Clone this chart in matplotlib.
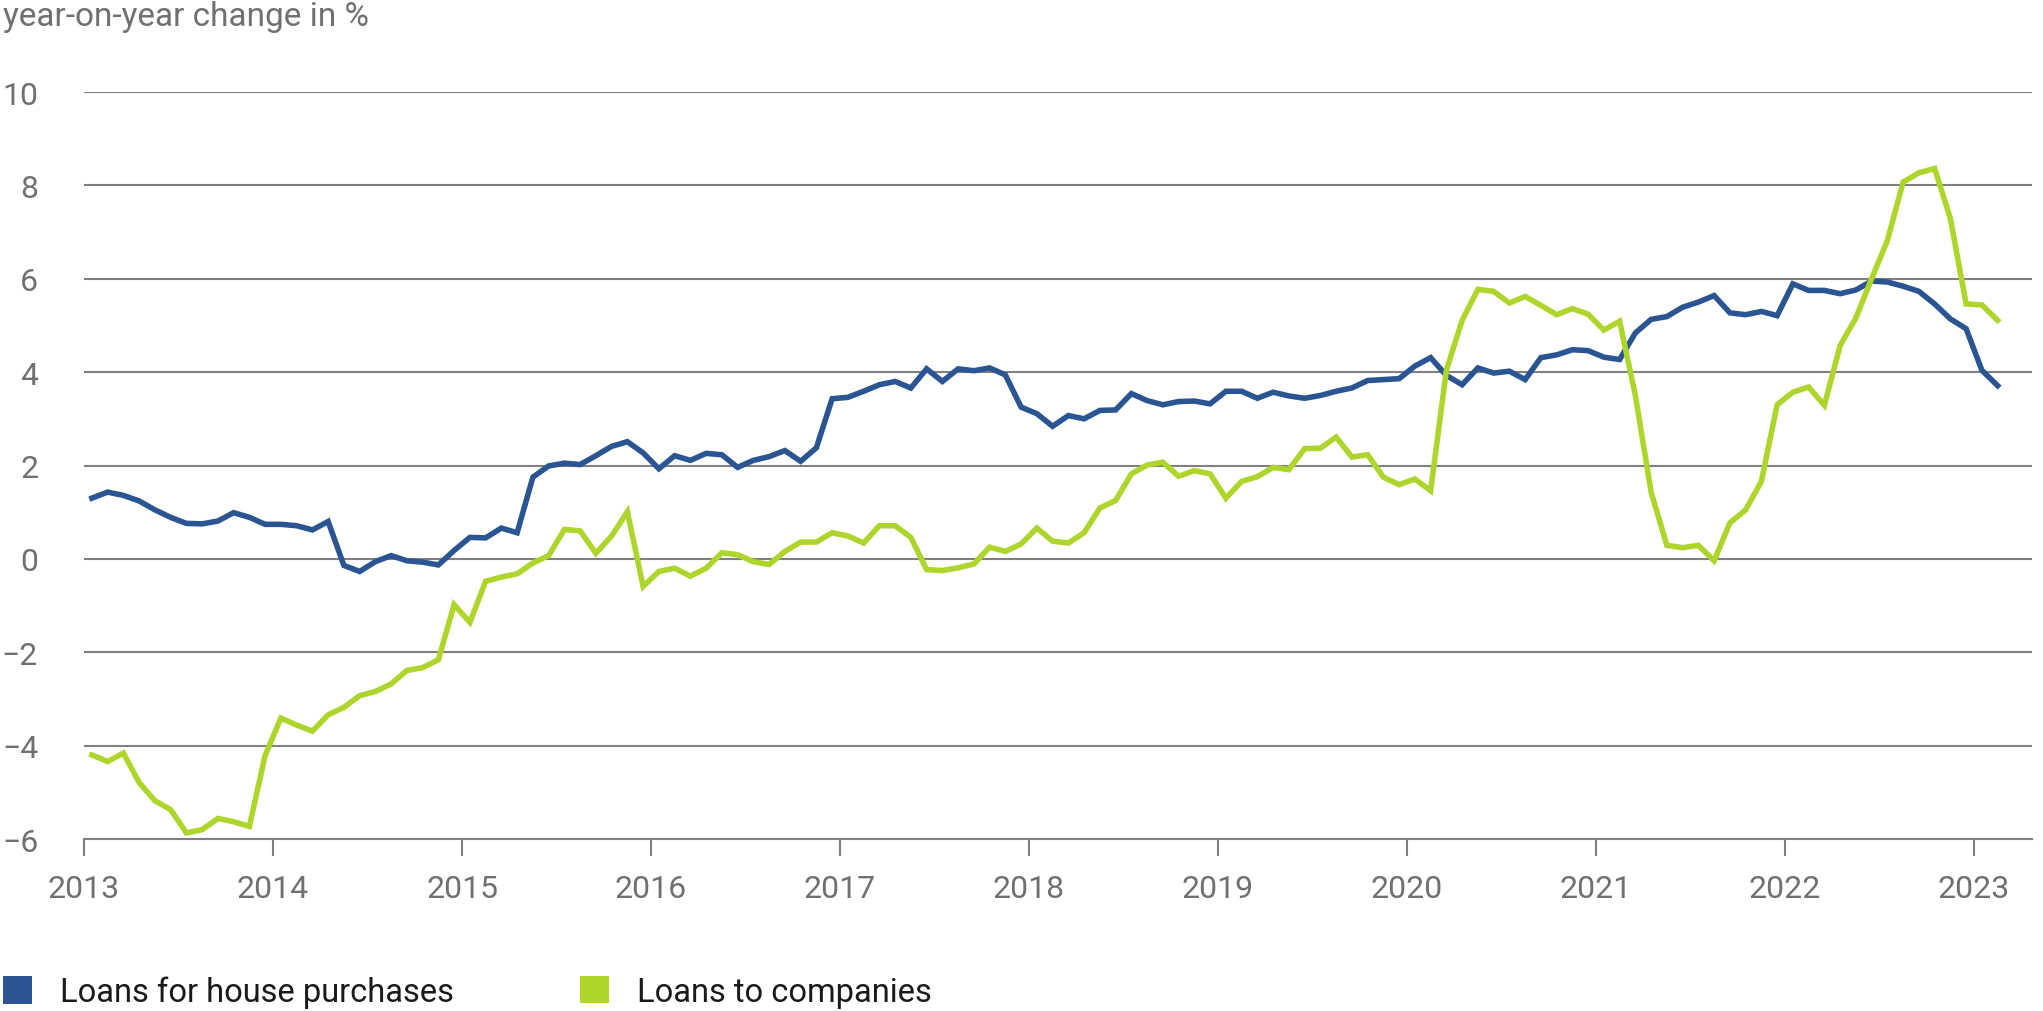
import numpy as np
import pandas as pd
import matplotlib
matplotlib.use("Agg")
import matplotlib.pyplot as plt
from matplotlib.patches import Patch

plt.rcParams['font.family'] = ['Roboto', 'DejaVu Sans']

months = pd.period_range('2013-01', '2023-02', freq='M')

house = [1.30, 1.43, 1.36, 1.24, 1.05, 0.89, 0.76, 0.75, 0.81, 0.99, 0.89, 0.74,
         0.74, 0.71, 0.62, 0.80, -0.14, -0.27, -0.06, 0.07, -0.04, -0.07, -0.13, 0.18,
         0.46, 0.45, 0.66, 0.56, 1.75, 1.99, 2.05, 2.02, 2.21, 2.41, 2.51, 2.27,
         1.93, 2.21, 2.11, 2.26, 2.23, 1.96, 2.11, 2.19, 2.32, 2.09, 2.38, 3.43,
         3.46, 3.59, 3.73, 3.80, 3.66, 4.07, 3.80, 4.07, 4.03, 4.09, 3.94, 3.25,
         3.11, 2.84, 3.07, 3.00, 3.18, 3.19, 3.54, 3.39, 3.30, 3.37, 3.38, 3.32,
         3.59, 3.59, 3.44, 3.57, 3.49, 3.44, 3.50, 3.59, 3.66, 3.82, 3.84, 3.86,
         4.13, 4.31, 3.93, 3.73, 4.09, 3.98, 4.02, 3.84, 4.31, 4.37, 4.48, 4.46,
         4.32, 4.27, 4.84, 5.13, 5.19, 5.39, 5.50, 5.64, 5.27, 5.23, 5.30, 5.21,
         5.89, 5.75, 5.75, 5.68, 5.76, 5.95, 5.93, 5.84, 5.73, 5.46, 5.14, 4.93,
         4.04, 3.71]

companies = [-4.20, -4.34, -4.16, -4.79, -5.18, -5.37, -5.87, -5.80, -5.56, -5.63, -5.73, -4.21,
             -3.41, -3.56, -3.69, -3.34, -3.18, -2.93, -2.84, -2.68, -2.39, -2.33, -2.16, -0.98,
             -1.36, -0.48, -0.39, -0.32, -0.09, 0.07, 0.63, 0.60, 0.12, 0.49, 1.01, -0.59,
             -0.27, -0.20, -0.37, -0.20, 0.13, 0.09, -0.06, -0.12, 0.16, 0.36, 0.36, 0.56,
             0.49, 0.34, 0.71, 0.71, 0.46, -0.23, -0.25, -0.19, -0.11, 0.25, 0.16, 0.32,
             0.66, 0.38, 0.34, 0.56, 1.09, 1.25, 1.82, 2.01, 2.07, 1.77, 1.89, 1.82,
             1.30, 1.66, 1.76, 1.96, 1.91, 2.36, 2.37, 2.61, 2.18, 2.23, 1.75, 1.59,
             1.71, 1.46, 4.04, 5.11, 5.77, 5.73, 5.48, 5.62, 5.43, 5.23, 5.36, 5.24,
             4.90, 5.09, 3.50, 1.43, 0.29, 0.24, 0.29, -0.04, 0.77, 1.05, 1.66, 3.30,
             3.57, 3.68, 3.29, 4.57, 5.16, 6.00, 6.82, 8.07, 8.27, 8.36, 7.29, 5.46,
             5.44, 5.11]

year_ticks = list(range(2013, 2024))
y_ticks = [-6, -4, -2, 0, 2, 4, 6, 8, 10]
series_names = ["Loans for house purchases", "Loans to companies"]
title_text = "year-on-year change in %"

BLUE = "#2B5592"
GREEN = "#ADD52B"
GRAY = "#707070"
GRID = "#808080"

x = np.array([p.year + (p.month - 0.5) / 12 for p in months])

fig = plt.figure(figsize=(20.43, 10.12), dpi=100)
ax = fig.add_axes([84 / 2043, 172 / 1012, 1948 / 2043, 747 / 1012])

ax.plot(x, house, color=BLUE, lw=4.0, solid_joinstyle='miter', zorder=3, clip_on=False)
ax.plot(x, companies, color=GREEN, lw=4.0, solid_joinstyle='miter', zorder=4, clip_on=False)

ax.set_xlim(2013, 2013 + 1948 / 189)
ax.set_ylim(-6, 10)
ax.set_xticks(year_ticks)
ax.set_xticklabels([str(y) for y in year_ticks])
ax.set_yticks(y_ticks)
ax.set_yticklabels([f"{v}".replace('-', '\u2212') for v in y_ticks])

ax.grid(axis='y', color=GRID, lw=1.5, zorder=1)
ax.set_axisbelow(True)
for s in ['top', 'right', 'left']:
    ax.spines[s].set_visible(False)
ax.spines['bottom'].set_color(GRID)
ax.spines['bottom'].set_linewidth(1.5)

ax.tick_params(axis='x', direction='out', length=12, width=1.5, color=GRID,
               labelsize=23, labelcolor=GRAY, pad=13)
ax.tick_params(axis='y', length=0, labelsize=23, labelcolor=GRAY, pad=33)

fig.text(3 / 2043, 1 - 26 / 1012, title_text, fontsize=24, color=GRAY,
         ha='left', va='baseline')

for name, col, xpos in [(series_names[0], BLUE, 3 / 2043), (series_names[1], GREEN, 580 / 2043)]:
    fig.legend(handles=[Patch(facecolor=col, edgecolor='none', label=name)],
               loc='center left', bbox_to_anchor=(xpos, 19 / 1012),
               frameon=False, fontsize=23.5, handlelength=0.9, handleheight=0.9,
               handletextpad=0.85, borderpad=0, borderaxespad=0, labelcolor='#1a1a1a')

fig.savefig("out.png", dpi=100)
